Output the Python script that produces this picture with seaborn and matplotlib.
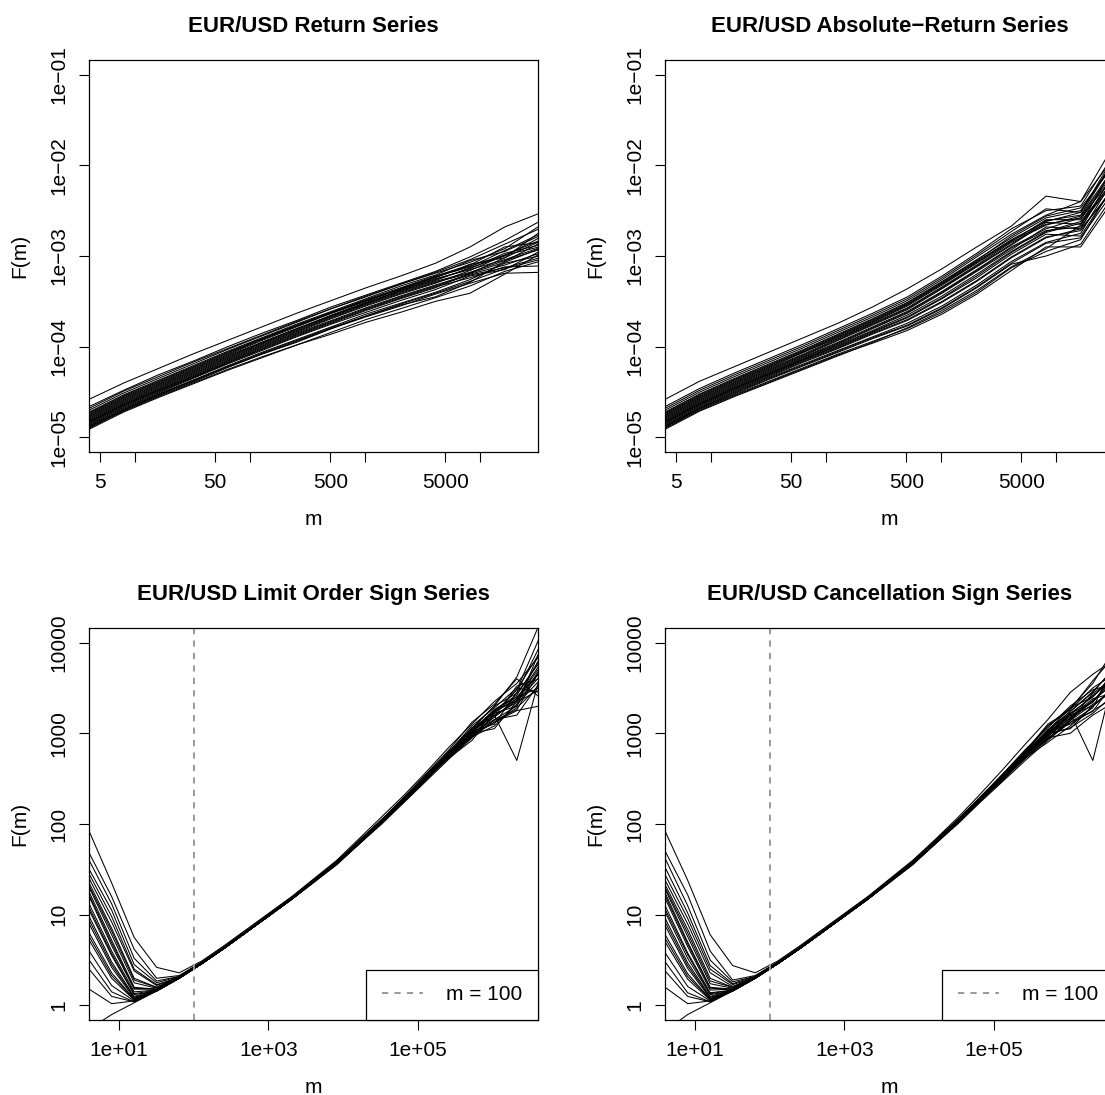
import numpy as np
import pandas as pd
import matplotlib
matplotlib.use("Agg")
import matplotlib.pyplot as plt
from matplotlib.lines import Line2D
import seaborn as sns

# ---------------- data (log10 F(m)) ----------------
m_short = [4, 8, 16, 32, 64, 128, 256, 512, 1024, 2048, 4096, 8192, 16384, 32768]
m_long = [4, 8, 16, 32, 64, 128, 256, 512, 1024, 2048, 4096, 8192, 16384, 32768,
          65536, 131072, 262144, 524288, 1048576, 2097152, 4194304]

return_log10F = [
    [-4.58, -4.40, -4.24, -4.08, -3.93, -3.78, -3.63, -3.49, -3.35, -3.22, -3.08, -2.90, -2.68, -2.53],
    [-4.66, -4.48, -4.31, -4.16, -4.00, -3.85, -3.71, -3.56, -3.43, -3.30, -3.17, -3.01, -2.83, -2.62],
    [-4.68, -4.49, -4.33, -4.17, -4.02, -3.87, -3.72, -3.58, -3.44, -3.31, -3.18, -3.04, -2.87, -2.70],
    [-4.70, -4.51, -4.35, -4.19, -4.03, -3.88, -3.73, -3.58, -3.45, -3.31, -3.19, -3.07, -2.92, -2.67],
    [-4.72, -4.53, -4.37, -4.21, -4.05, -3.90, -3.75, -3.61, -3.47, -3.33, -3.21, -3.05, -2.95, -2.78],
    [-4.73, -4.54, -4.38, -4.22, -4.06, -3.91, -3.77, -3.62, -3.49, -3.36, -3.23, -3.11, -2.99, -2.83],
    [-4.74, -4.55, -4.39, -4.23, -4.07, -3.91, -3.76, -3.62, -3.48, -3.35, -3.22, -3.10, -2.90, -2.85],
    [-4.75, -4.56, -4.40, -4.24, -4.08, -3.92, -3.77, -3.63, -3.50, -3.36, -3.23, -3.12, -2.94, -2.76],
    [-4.76, -4.57, -4.41, -4.25, -4.09, -3.93, -3.78, -3.63, -3.49, -3.37, -3.24, -3.09, -3.02, -2.74],
    [-4.77, -4.58, -4.42, -4.26, -4.10, -3.95, -3.80, -3.65, -3.51, -3.38, -3.26, -3.14, -2.97, -2.88],
    [-4.78, -4.59, -4.43, -4.27, -4.11, -3.95, -3.80, -3.66, -3.52, -3.38, -3.25, -3.15, -3.04, -2.91],
    [-4.79, -4.60, -4.44, -4.28, -4.12, -3.96, -3.81, -3.66, -3.52, -3.39, -3.27, -3.13, -3.00, -2.80],
    [-4.80, -4.61, -4.45, -4.29, -4.13, -3.97, -3.82, -3.67, -3.53, -3.40, -3.28, -3.18, -3.05, -2.93],
    [-4.81, -4.62, -4.46, -4.30, -4.14, -3.98, -3.83, -3.68, -3.54, -3.41, -3.29, -3.19, -3.02, -2.84],
    [-4.82, -4.63, -4.47, -4.31, -4.15, -3.99, -3.84, -3.69, -3.55, -3.42, -3.30, -3.16, -2.99, -2.90],
    [-4.83, -4.64, -4.48, -4.32, -4.16, -4.00, -3.85, -3.71, -3.57, -3.44, -3.32, -3.20, -3.10, -2.97],
    [-4.83, -4.64, -4.48, -4.33, -4.17, -4.01, -3.86, -3.72, -3.58, -3.45, -3.33, -3.21, -3.13, -3.02],
    [-4.84, -4.65, -4.49, -4.34, -4.18, -4.02, -3.87, -3.73, -3.59, -3.46, -3.34, -3.24, -3.12, -3.11],
    [-4.85, -4.66, -4.50, -4.34, -4.18, -4.03, -3.88, -3.74, -3.60, -3.47, -3.35, -3.19, -3.07, -2.92],
    [-4.86, -4.67, -4.51, -4.35, -4.19, -4.04, -3.89, -3.75, -3.62, -3.49, -3.37, -3.22, -3.15, -2.95],
    [-4.87, -4.68, -4.52, -4.37, -4.21, -4.06, -3.92, -3.78, -3.64, -3.52, -3.40, -3.26, -3.08, -3.00],
    [-4.88, -4.70, -4.54, -4.39, -4.23, -4.08, -3.95, -3.80, -3.67, -3.55, -3.42, -3.30, -3.19, -3.18],
    [-4.88, -4.69, -4.53, -4.38, -4.22, -4.08, -3.94, -3.80, -3.66, -3.53, -3.41, -3.28, -3.14, -3.04],
    [-4.89, -4.71, -4.55, -4.40, -4.25, -4.11, -3.98, -3.86, -3.73, -3.62, -3.50, -3.41, -3.20, -2.98],
    [-4.91, -4.72, -4.56, -4.41, -4.26, -4.12, -3.98, -3.84, -3.70, -3.58, -3.46, -3.33, -3.17, -3.06],
    [-4.90, -4.70, -4.53, -4.37, -4.22, -4.07, -3.93, -3.79, -3.66, -3.54, -3.45, -3.29, -3.06, -2.86],
]

absreturn_log10F = [
    [-4.58, -4.38, -4.22, -4.06, -3.90, -3.74, -3.56, -3.36, -3.14, -2.90, -2.67, -2.34, -2.40, -1.75],
    [-4.66, -4.46, -4.29, -4.13, -3.97, -3.80, -3.63, -3.45, -3.22, -2.97, -2.70, -2.50, -2.45, -1.85],
    [-4.68, -4.48, -4.31, -4.15, -3.99, -3.82, -3.65, -3.47, -3.24, -2.99, -2.73, -2.48, -2.52, -1.92],
    [-4.70, -4.50, -4.33, -4.17, -4.01, -3.84, -3.67, -3.49, -3.26, -3.01, -2.76, -2.55, -2.40, -1.90],
    [-4.72, -4.52, -4.35, -4.19, -4.03, -3.86, -3.69, -3.51, -3.28, -3.04, -2.80, -2.58, -2.50, -1.95],
    [-4.73, -4.53, -4.36, -4.20, -4.04, -3.87, -3.70, -3.52, -3.29, -3.05, -2.78, -2.56, -2.47, -1.98],
    [-4.74, -4.54, -4.37, -4.21, -4.05, -3.88, -3.71, -3.53, -3.30, -3.06, -2.82, -2.62, -2.52, -1.88],
    [-4.75, -4.55, -4.38, -4.22, -4.06, -3.89, -3.72, -3.54, -3.31, -3.07, -2.83, -2.65, -2.58, -2.02],
    [-4.76, -4.56, -4.39, -4.23, -4.06, -3.90, -3.73, -3.55, -3.32, -3.08, -2.84, -2.60, -2.60, -2.05],
    [-4.77, -4.57, -4.40, -4.24, -4.08, -3.91, -3.74, -3.57, -3.34, -3.10, -2.85, -2.66, -2.56, -2.00],
    [-4.78, -4.58, -4.41, -4.25, -4.09, -3.92, -3.75, -3.58, -3.35, -3.11, -2.87, -2.61, -2.55, -1.92],
    [-4.79, -4.59, -4.42, -4.26, -4.10, -3.93, -3.76, -3.59, -3.36, -3.12, -2.88, -2.63, -2.65, -1.98],
    [-4.80, -4.60, -4.43, -4.27, -4.11, -3.95, -3.78, -3.61, -3.39, -3.15, -2.90, -2.70, -2.58, -2.10],
    [-4.81, -4.61, -4.44, -4.28, -4.12, -3.96, -3.79, -3.62, -3.40, -3.16, -2.91, -2.72, -2.68, -2.12],
    [-4.82, -4.62, -4.45, -4.29, -4.13, -3.97, -3.80, -3.63, -3.41, -3.17, -2.93, -2.68, -2.70, -2.05],
    [-4.83, -4.63, -4.46, -4.30, -4.14, -3.98, -3.82, -3.65, -3.44, -3.20, -2.95, -2.73, -2.62, -2.15],
    [-4.83, -4.63, -4.46, -4.30, -4.14, -3.99, -3.83, -3.67, -3.46, -3.22, -2.96, -2.74, -2.64, -2.18],
    [-4.84, -4.64, -4.47, -4.31, -4.15, -4.00, -3.84, -3.68, -3.47, -3.24, -2.98, -2.76, -2.78, -2.20],
    [-4.85, -4.65, -4.48, -4.32, -4.16, -4.01, -3.85, -3.70, -3.50, -3.27, -3.01, -2.79, -2.72, -2.22],
    [-4.86, -4.66, -4.49, -4.33, -4.17, -4.02, -3.86, -3.71, -3.51, -3.28, -3.02, -2.80, -2.70, -2.25],
    [-4.87, -4.67, -4.50, -4.34, -4.19, -4.04, -3.89, -3.74, -3.55, -3.32, -3.06, -2.85, -2.75, -2.12],
    [-4.88, -4.68, -4.52, -4.36, -4.21, -4.06, -3.91, -3.77, -3.58, -3.35, -3.09, -3.00, -2.87, -2.30],
    [-4.88, -4.68, -4.51, -4.35, -4.20, -4.05, -3.90, -3.76, -3.57, -3.34, -3.08, -2.86, -2.80, -2.26],
    [-4.89, -4.69, -4.53, -4.38, -4.23, -4.08, -3.94, -3.80, -3.62, -3.40, -3.13, -2.95, -2.82, -2.18],
    [-4.91, -4.71, -4.55, -4.40, -4.25, -4.10, -3.95, -3.79, -3.60, -3.38, -3.12, -2.92, -2.66, -2.08],
    [-4.90, -4.70, -4.54, -4.39, -4.24, -4.09, -3.96, -3.82, -3.64, -3.42, -3.16, -2.90, -2.90, -2.35],
]

limit_log10F = [
    [1.92, 1.35, 0.75, 0.42, 0.36, 0.49, 0.66, 0.84, 1.02, 1.20, 1.40, 1.60, 1.84, 2.08, 2.32, 2.58, 2.85, 3.10, 3.35, 3.55, 3.85],
    [1.68, 1.20, 0.62, 0.30, 0.33, 0.48, 0.65, 0.83, 1.01, 1.19, 1.39, 1.58, 1.81, 2.04, 2.29, 2.53, 2.78, 3.05, 3.30, 3.62, 4.20],
    [1.60, 1.12, 0.52, 0.27, 0.32, 0.47, 0.64, 0.82, 1.00, 1.18, 1.38, 1.57, 1.80, 2.04, 2.28, 2.53, 2.79, 3.04, 3.22, 3.48, 3.88],
    [1.50, 1.05, 0.45, 0.25, 0.32, 0.47, 0.64, 0.82, 1.00, 1.18, 1.38, 1.57, 1.80, 2.03, 2.27, 2.55, 2.80, 3.00, 3.15, 3.30, 3.70],
    [1.45, 0.98, 0.40, 0.23, 0.31, 0.46, 0.63, 0.81, 0.99, 1.17, 1.37, 1.57, 1.80, 2.02, 2.26, 2.51, 2.77, 3.01, 3.26, 3.40, 3.66],
    [1.40, 0.92, 0.38, 0.22, 0.31, 0.46, 0.63, 0.81, 0.99, 1.17, 1.37, 1.56, 1.79, 2.02, 2.26, 2.50, 2.76, 3.02, 3.10, 3.45, 3.95],
    [1.35, 0.85, 0.30, 0.20, 0.32, 0.47, 0.64, 0.82, 1.00, 1.18, 1.38, 1.58, 1.82, 2.05, 2.28, 2.52, 2.74, 2.95, 3.25, 3.40, 3.50],
    [1.32, 0.82, 0.28, 0.20, 0.31, 0.47, 0.64, 0.82, 1.00, 1.18, 1.38, 1.57, 1.81, 2.04, 2.28, 2.52, 2.76, 2.98, 3.12, 3.28, 3.52],
    [1.30, 0.78, 0.25, 0.19, 0.31, 0.46, 0.63, 0.81, 0.99, 1.17, 1.37, 1.57, 1.80, 2.03, 2.27, 2.51, 2.77, 3.02, 3.20, 2.70, 3.60],
    [1.25, 0.72, 0.20, 0.18, 0.30, 0.46, 0.63, 0.81, 0.99, 1.18, 1.37, 1.56, 1.78, 2.01, 2.25, 2.50, 2.76, 2.98, 3.18, 3.38, 3.75],
    [1.22, 0.69, 0.19, 0.18, 0.30, 0.46, 0.63, 0.81, 0.99, 1.17, 1.37, 1.56, 1.79, 2.02, 2.26, 2.50, 2.75, 3.05, 3.30, 3.44, 3.78],
    [1.20, 0.66, 0.18, 0.18, 0.31, 0.47, 0.64, 0.82, 1.00, 1.19, 1.39, 1.58, 1.81, 2.04, 2.28, 2.54, 2.80, 3.08, 3.28, 3.50, 3.45],
    [1.12, 0.60, 0.15, 0.17, 0.30, 0.46, 0.63, 0.81, 0.99, 1.17, 1.36, 1.55, 1.78, 2.02, 2.26, 2.50, 2.73, 2.92, 3.22, 3.30, 3.90],
    [1.08, 0.57, 0.13, 0.17, 0.30, 0.46, 0.63, 0.81, 0.99, 1.18, 1.37, 1.57, 1.80, 2.03, 2.27, 2.51, 2.77, 2.99, 3.18, 3.52, 3.60],
    [1.05, 0.55, 0.12, 0.16, 0.30, 0.47, 0.64, 0.82, 1.00, 1.18, 1.38, 1.57, 1.80, 2.03, 2.27, 2.52, 2.78, 3.00, 3.05, 3.35, 3.62],
    [0.98, 0.48, 0.10, 0.17, 0.31, 0.47, 0.64, 0.82, 1.01, 1.19, 1.39, 1.59, 1.82, 2.05, 2.30, 2.56, 2.82, 3.12, 3.32, 3.60, 3.40],
    [0.94, 0.45, 0.09, 0.16, 0.30, 0.46, 0.63, 0.81, 1.00, 1.18, 1.38, 1.57, 1.80, 2.03, 2.27, 2.52, 2.78, 3.02, 3.20, 3.34, 3.48],
    [0.90, 0.42, 0.08, 0.16, 0.30, 0.46, 0.63, 0.81, 0.99, 1.17, 1.37, 1.56, 1.79, 2.01, 2.25, 2.49, 2.75, 2.97, 3.12, 3.25, 3.30],
    [0.80, 0.36, 0.07, 0.17, 0.31, 0.47, 0.64, 0.82, 1.00, 1.18, 1.38, 1.57, 1.80, 2.03, 2.28, 2.53, 2.79, 3.03, 3.26, 3.42, 3.80],
    [0.76, 0.33, 0.07, 0.16, 0.30, 0.46, 0.63, 0.81, 0.99, 1.18, 1.37, 1.56, 1.79, 2.02, 2.26, 2.50, 2.75, 2.97, 3.14, 3.26, 3.68],
    [0.72, 0.30, 0.06, 0.16, 0.30, 0.46, 0.63, 0.81, 0.99, 1.18, 1.37, 1.56, 1.78, 2.00, 2.24, 2.48, 2.72, 2.95, 3.15, 3.20, 3.55],
    [0.60, 0.22, 0.05, 0.16, 0.30, 0.46, 0.63, 0.81, 1.00, 1.18, 1.38, 1.57, 1.80, 2.04, 2.29, 2.54, 2.80, 3.06, 3.22, 3.48, 4.05],
    [0.50, 0.15, 0.04, 0.17, 0.31, 0.47, 0.64, 0.82, 1.00, 1.19, 1.38, 1.58, 1.81, 2.05, 2.27, 2.51, 2.76, 2.99, 3.18, 3.36, 3.68],
    [0.40, 0.10, 0.04, 0.16, 0.30, 0.46, 0.63, 0.81, 0.99, 1.18, 1.37, 1.57, 1.80, 2.03, 2.27, 2.52, 2.78, 3.00, 3.24, 3.36, 3.82],
    [0.18, 0.02, 0.05, 0.17, 0.30, 0.46, 0.63, 0.81, 0.99, 1.17, 1.36, 1.56, 1.79, 2.02, 2.26, 2.50, 2.74, 2.96, 3.08, 3.32, 3.58],
    [-0.26, -0.10, 0.03, 0.16, 0.30, 0.46, 0.63, 0.81, 0.99, 1.18, 1.37, 1.56, 1.79, 2.02, 2.26, 2.51, 2.77, 3.01, 3.24, 3.38, 3.72],
]

cancel_log10F = [
    [1.92, 1.38, 0.78, 0.44, 0.36, 0.49, 0.66, 0.84, 1.02, 1.20, 1.40, 1.60, 1.83, 2.07, 2.33, 2.60, 2.88, 3.15, 3.45, 3.65, 3.82],
    [1.70, 1.22, 0.60, 0.28, 0.33, 0.48, 0.65, 0.83, 1.01, 1.19, 1.39, 1.58, 1.81, 2.04, 2.29, 2.54, 2.79, 3.08, 3.28, 3.55, 3.95],
    [1.62, 1.10, 0.50, 0.26, 0.32, 0.47, 0.64, 0.82, 1.00, 1.18, 1.38, 1.57, 1.80, 2.04, 2.28, 2.53, 2.79, 3.02, 3.24, 3.46, 3.72],
    [1.52, 1.02, 0.44, 0.24, 0.32, 0.47, 0.64, 0.82, 1.00, 1.18, 1.38, 1.57, 1.80, 2.03, 2.27, 2.52, 2.78, 2.98, 3.20, 3.42, 3.60],
    [1.44, 0.96, 0.40, 0.23, 0.31, 0.46, 0.63, 0.81, 0.99, 1.17, 1.37, 1.57, 1.80, 2.02, 2.26, 2.51, 2.77, 3.00, 3.16, 3.36, 3.56],
    [1.38, 0.90, 0.36, 0.21, 0.31, 0.46, 0.63, 0.81, 0.99, 1.17, 1.37, 1.56, 1.79, 2.02, 2.26, 2.50, 2.75, 3.00, 3.05, 3.30, 3.50],
    [1.33, 0.84, 0.30, 0.20, 0.32, 0.47, 0.64, 0.82, 1.00, 1.18, 1.38, 1.58, 1.81, 2.04, 2.28, 2.53, 2.77, 2.96, 3.22, 2.70, 3.70],
    [1.30, 0.80, 0.27, 0.20, 0.31, 0.47, 0.64, 0.82, 1.00, 1.18, 1.38, 1.57, 1.81, 2.04, 2.28, 2.52, 2.76, 2.99, 3.06, 3.22, 3.44],
    [1.28, 0.76, 0.24, 0.19, 0.31, 0.46, 0.63, 0.81, 0.99, 1.17, 1.37, 1.57, 1.80, 2.03, 2.27, 2.51, 2.76, 3.01, 3.18, 3.38, 3.45],
    [1.24, 0.70, 0.20, 0.18, 0.30, 0.46, 0.63, 0.81, 0.99, 1.18, 1.37, 1.56, 1.78, 2.01, 2.25, 2.50, 2.74, 2.93, 3.12, 3.28, 3.78],
    [1.21, 0.68, 0.19, 0.18, 0.30, 0.46, 0.63, 0.81, 0.99, 1.17, 1.37, 1.56, 1.79, 2.02, 2.26, 2.50, 2.75, 3.03, 3.28, 3.40, 3.68],
    [1.18, 0.65, 0.17, 0.18, 0.31, 0.47, 0.64, 0.82, 1.00, 1.19, 1.39, 1.58, 1.81, 2.04, 2.29, 2.55, 2.82, 3.06, 3.30, 3.48, 3.55],
    [1.10, 0.58, 0.14, 0.17, 0.30, 0.46, 0.63, 0.81, 0.99, 1.17, 1.36, 1.55, 1.78, 2.02, 2.26, 2.49, 2.72, 2.94, 3.15, 3.35, 3.62],
    [1.06, 0.56, 0.13, 0.17, 0.30, 0.46, 0.63, 0.81, 0.99, 1.18, 1.37, 1.57, 1.80, 2.03, 2.27, 2.51, 2.77, 2.98, 3.14, 3.44, 3.62],
    [1.03, 0.52, 0.12, 0.16, 0.30, 0.47, 0.64, 0.82, 1.00, 1.18, 1.38, 1.57, 1.80, 2.03, 2.27, 2.52, 2.78, 3.02, 3.10, 3.25, 3.40],
    [0.96, 0.47, 0.10, 0.17, 0.31, 0.47, 0.64, 0.82, 1.01, 1.19, 1.39, 1.59, 1.82, 2.05, 2.30, 2.55, 2.80, 3.10, 3.26, 3.50, 3.66],
    [0.92, 0.44, 0.09, 0.16, 0.30, 0.46, 0.63, 0.81, 1.00, 1.18, 1.38, 1.57, 1.80, 2.03, 2.27, 2.52, 2.78, 3.01, 3.20, 3.30, 3.50],
    [0.88, 0.41, 0.08, 0.16, 0.30, 0.46, 0.63, 0.81, 0.99, 1.17, 1.37, 1.56, 1.79, 2.01, 2.25, 2.48, 2.73, 2.95, 3.00, 3.20, 3.35],
    [0.78, 0.35, 0.07, 0.17, 0.31, 0.47, 0.64, 0.82, 1.00, 1.18, 1.38, 1.57, 1.80, 2.03, 2.28, 2.53, 2.79, 3.04, 3.24, 3.45, 3.74],
    [0.74, 0.32, 0.07, 0.16, 0.30, 0.46, 0.63, 0.81, 0.99, 1.18, 1.37, 1.56, 1.79, 2.02, 2.26, 2.50, 2.75, 2.95, 3.12, 3.24, 3.58],
    [0.70, 0.29, 0.06, 0.16, 0.30, 0.46, 0.63, 0.81, 0.99, 1.18, 1.37, 1.56, 1.78, 2.00, 2.24, 2.47, 2.70, 2.92, 3.14, 3.32, 3.48],
    [0.58, 0.21, 0.05, 0.16, 0.30, 0.46, 0.63, 0.81, 1.00, 1.18, 1.38, 1.57, 1.80, 2.04, 2.29, 2.55, 2.81, 3.08, 3.26, 3.58, 3.86],
    [0.48, 0.14, 0.04, 0.17, 0.31, 0.47, 0.64, 0.82, 1.00, 1.19, 1.38, 1.58, 1.81, 2.05, 2.27, 2.51, 2.75, 2.97, 3.17, 3.36, 3.58],
    [0.38, 0.10, 0.04, 0.16, 0.30, 0.46, 0.63, 0.81, 0.99, 1.18, 1.37, 1.57, 1.80, 2.03, 2.27, 2.52, 2.78, 3.00, 3.22, 3.34, 3.66],
    [0.20, 0.02, 0.05, 0.17, 0.30, 0.46, 0.63, 0.81, 0.99, 1.17, 1.36, 1.56, 1.79, 2.02, 2.26, 2.50, 2.73, 2.90, 3.08, 3.30, 3.52],
    [-0.28, -0.10, 0.03, 0.16, 0.30, 0.46, 0.63, 0.81, 0.99, 1.18, 1.37, 1.56, 1.79, 2.02, 2.26, 2.51, 2.77, 3.03, 3.22, 3.40, 3.64],
]

titles = ["EUR/USD Return Series", "EUR/USD Absolute\u2212Return Series",
          "EUR/USD Limit Order Sign Series", "EUR/USD Cancellation Sign Series"]

top_xticks = [5, 10, 50, 100, 500, 1000, 5000, 10000]
top_xticklabels = ["5", "", "50", "", "500", "", "5000", ""]
top_yticks = [1e-5, 1e-4, 1e-3, 1e-2, 1e-1]
top_yticklabels = ["1e\u221205", "1e\u221204", "1e\u221203", "1e\u221202", "1e\u221201"]
bot_xticks = [10, 1000, 100000]
bot_xticklabels = ["1e+01", "1e+03", "1e+05"]
bot_yticks = [1, 10, 100, 1000, 10000]
bot_yticklabels = ["1", "10", "100", "1000", "10000"]
cutoff_m = 100
legend_label = "m = 100"


def to_frame(m, lines):
    rows = []
    for i, line in enumerate(lines):
        for mm, v in zip(m, line):
            rows.append((i, mm, 10.0 ** v))
    return pd.DataFrame(rows, columns=["series", "m", "F"])


# ---------------- style ----------------
plt.rcParams["font.family"] = ["Liberation Sans", "DejaVu Sans"]
plt.rcParams["axes.linewidth"] = 0.9
plt.rcParams["axes.edgecolor"] = "black"

W, H = 1105, 1095
fig = plt.figure(figsize=(W / 100, H / 100), dpi=100)
fig.patch.set_facecolor("white")


def rect(l, t, r, b):
    return [l / W, 1 - b / H, (r - l) / W, (b - t) / H]


rects = [rect(89, 60, 538, 452), rect(665, 60, 1114, 452),
         rect(89, 628, 538, 1020), rect(665, 628, 1114, 1020)]
panels = [(m_short, return_log10F), (m_short, absreturn_log10F),
          (m_long, limit_log10F), (m_long, cancel_log10F)]

FS = 15
for k, (r, (m, lines)) in enumerate(zip(rects, panels)):
    ax = fig.add_axes(r)
    ax.set_xscale("log")
    ax.set_yscale("log")
    df = to_frame(m, lines)
    sns.lineplot(data=df, x="m", y="F", units="series", estimator=None,
                 color="black", linewidth=0.75, ax=ax, legend=False, sort=False)
    if k < 2:
        ax.set_xlim(4, 10 ** 4.504)
        ax.set_ylim(10 ** -5.16, 10 ** -0.84)
        ax.set_xticks(top_xticks)
        ax.set_xticklabels(top_xticklabels)
        ax.set_yticks(top_yticks)
        ax.set_yticklabels(top_yticklabels)
    else:
        ax.set_xlim(10 ** 0.6, 10 ** 6.605)
        ax.set_ylim(10 ** -0.16, 10 ** 4.16)
        ax.set_xticks(bot_xticks)
        ax.set_xticklabels(bot_xticklabels)
        ax.set_yticks(bot_yticks)
        ax.set_yticklabels(bot_yticklabels)
        ax.axvline(cutoff_m, color="#999999", ls=(0, (3.2, 3.2)), lw=1.4)
        h = Line2D([], [], color="#999999", ls=(0, (3.2, 3.2)), lw=1.4)
        leg = ax.legend([h], [legend_label], loc="lower right", borderaxespad=0,
                        fancybox=False, framealpha=1, edgecolor="black",
                        fontsize=FS, handlelength=2.0, handletextpad=1.1,
                        borderpad=0.75)
        leg.get_frame().set_linewidth(0.9)
    ax.minorticks_off()
    ax.tick_params(axis="both", direction="out", length=7, width=0.8,
                   labelsize=FS, color="black", pad=8)
    for lab in ax.get_yticklabels():
        lab.set_rotation(90)
        lab.set_va("center")
        lab.set_ha("right")
    ax.set_xlabel("m", fontsize=FS, labelpad=13)
    ax.set_ylabel("F(m)", fontsize=FS, labelpad=14)
    ax.set_title(titles[k], fontsize=16, fontweight="bold", pad=20)
    for s in ax.spines.values():
        s.set_color("black")
        s.set_linewidth(0.9)

fig.savefig("out.png", dpi=100, facecolor="white")
